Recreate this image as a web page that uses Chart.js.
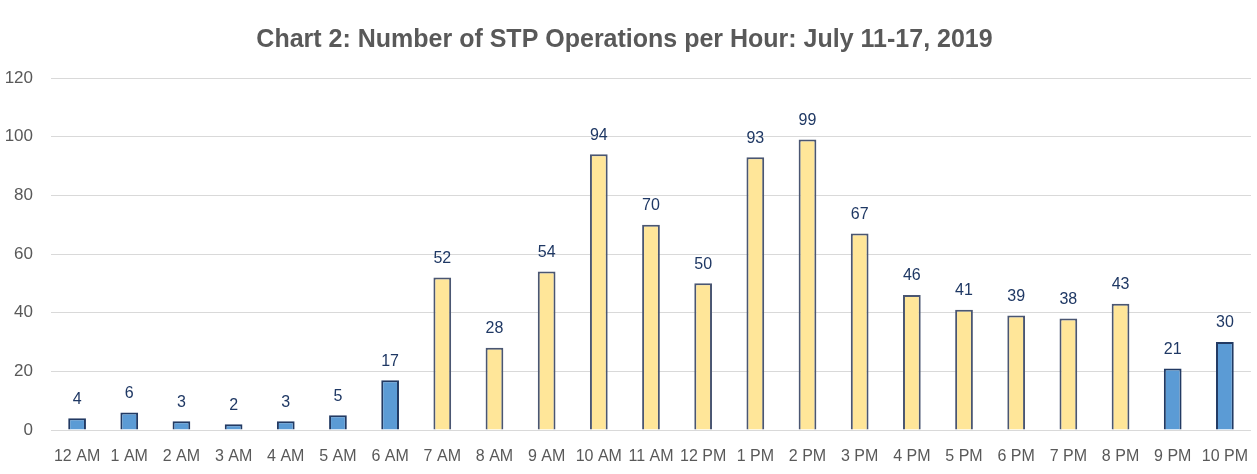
<!DOCTYPE html>
<html>
<head>
<meta charset="utf-8">
<script src="https://cdn.jsdelivr.net/npm/chart.js@4/dist/chart.umd.min.js"></script>
<style>
  html, body { margin: 0; padding: 0; background: #fff; overflow: hidden; }
  #wrap { position: relative; width: 1265px; height: 474px; margin-left: -8px; }
</style>
</head>
<body>
<div id="wrap"><canvas id="c"></canvas></div>
<script>
// hours shown on the x axis (no 11 PM in the source)
const hours = ['12 AM', '1 AM', '2 AM', '3 AM', '4 AM', '5 AM', '6 AM', '7 AM', '8 AM', '9 AM',
  '10 AM', '11 AM', '12 PM', '1 PM', '2 PM', '3 PM', '4 PM', '5 PM', '6 PM', '7 PM', '8 PM',
  '9 PM', '10 PM'];
const operations = [4, 6, 3, 2, 3, 5, 17, 52, 28, 54, 94, 70, 50, 93, 99, 67, 46, 41, 39, 38, 43, 21, 30];
// daytime hours are drawn in yellow
const dayHours = ['7 AM', '8 AM', '9 AM', '10 AM', '11 AM', '12 PM', '1 PM', '2 PM', '3 PM',
  '4 PM', '5 PM', '6 PM', '7 PM', '8 PM'];
const yTicks = [0, 20, 40, 60, 80, 100, 120];

const isDay = i => dayHours.includes(hours[i]);

// labels above the bars (no datalabels plugin available offline)
const barLabels = {
  id: 'barLabels',
  afterDatasetsDraw(chart) {
    const ctx = chart.ctx;
    const meta = chart.getDatasetMeta(0);
    ctx.save();
    ctx.font = '16px "Liberation Sans", Arial, sans-serif';
    ctx.fillStyle = '#1f3864';
    ctx.textAlign = 'center';
    ctx.textBaseline = 'bottom';
    meta.data.forEach((bar, i) => {
      ctx.fillText(String(operations[i]), bar.x, bar.y - 11);
    });
    ctx.restore();
  }
};

new Chart(document.getElementById('c'), {
  type: 'bar',
  data: {
    labels: hours,
    datasets: [{
      data: operations,
      backgroundColor: ctx => isDay(ctx.dataIndex) ? '#ffe699' : '#5b9bd5',
      borderColor: ctx => isDay(ctx.dataIndex) ? '#4a5672' : '#223a63',
      borderWidth: 2,
      borderSkipped: 'bottom',
      barPercentage: 0.34,
      categoryPercentage: 1
    }]
  },
  options: {
    responsive: true,
    maintainAspectRatio: false,
    animation: false,
    layout: { padding: 0 },
    plugins: {
      legend: { display: false },
      tooltip: { enabled: false },
      title: {
        display: true,
        text: 'Chart 2: Number of STP Operations per Hour: July 11-17, 2019',
        color: '#595959',
        font: { family: '"Liberation Sans", Arial, sans-serif', size: 25, weight: 'bold', lineHeight: 1.2 },
        padding: { top: 25, bottom: 23 }
      }
    },
    scales: {
      x: {
        grid: { display: false },
        border: { display: true, color: '#d9d9d9' },
        ticks: {
          color: '#595959',
          font: { family: '"Liberation Sans", Arial, sans-serif', size: 16 },
          padding: 9,
          maxRotation: 0,
          autoSkip: false
        },
        afterFit: s => { s.height = 44; }
      },
      y: {
        min: 0,
        max: 120,
        afterBuildTicks: s => { s.ticks = yTicks.map(v => ({ value: v })); },
        grid: { color: '#d9d9d9', drawTicks: false },
        border: { display: false },
        ticks: {
          color: '#595959',
          font: { family: '"Liberation Sans", Arial, sans-serif', size: 17 },
          padding: 18
        },
        afterFit: s => { s.width = 59; }
      }
    }
  },
  plugins: [barLabels]
});
</script>
</body>
</html>
